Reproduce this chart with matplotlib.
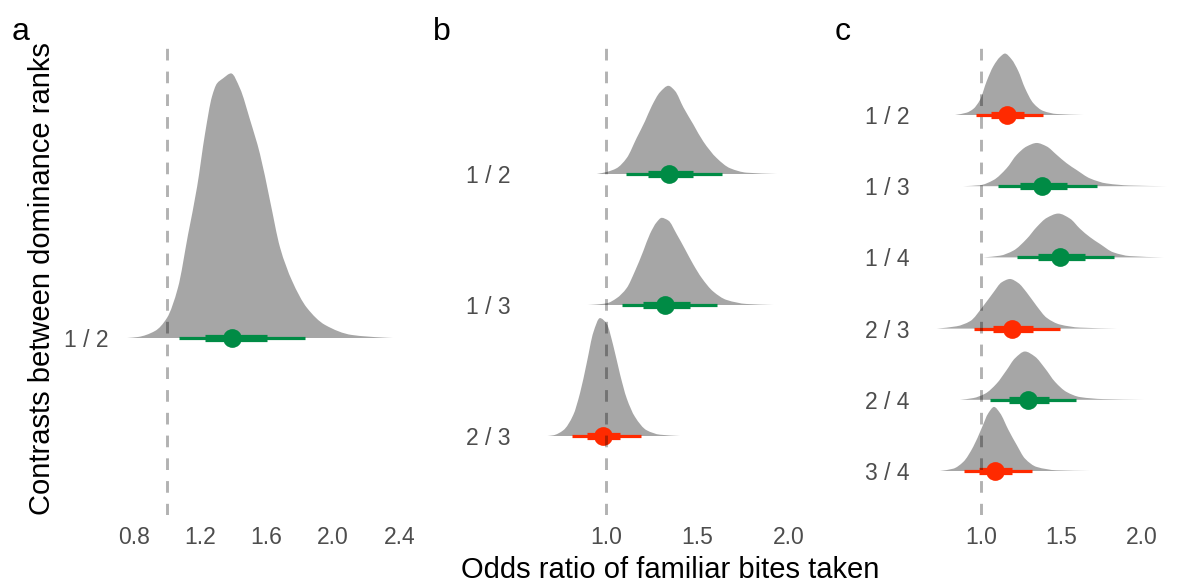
import matplotlib
matplotlib.use("Agg")
import matplotlib.pyplot as plt
from matplotlib.path import Path
from matplotlib.patches import PathPatch
import numpy as np

plt.rcParams['font.family'] = ['Liberation Sans', 'DejaVu Sans']

# ---------------- data ----------------
# Panel a
a_rows = ["1 / 2"]
a_median = [1.39]
a_lo66 = [1.23]
a_hi66 = [1.60]
a_lo95 = [1.07]
a_hi95 = [1.83]
a_dens_x = [[0.76, 0.825, 0.928, 1.0, 1.066, 1.127, 1.181, 1.229, 1.271, 1.301, 1.337,
             1.386, 1.440, 1.500, 1.560, 1.620, 1.681, 1.753, 1.843, 1.952, 2.114, 2.295, 2.36]]
a_dens_y = [[0, 1, 7, 20, 50, 103, 150, 203, 240, 253, 258,
             263, 248, 217, 183, 137, 90, 57, 30, 13, 3, 0.5, 0]]

# Panel b (bottom to top)
b_rows = ["2 / 3", "1 / 3", "1 / 2"]
b_median = [0.985, 1.322, 1.346]
b_lo66 = [0.898, 1.204, 1.228]
b_hi66 = [1.077, 1.459, 1.477]
b_lo95 = [0.813, 1.089, 1.109]
b_hi95 = [1.190, 1.605, 1.632]
b_dens_x = [
    [0.68, 0.712, 0.767, 0.821, 0.858, 0.895, 0.931, 0.967, 1.004, 1.040, 1.077, 1.113, 1.158, 1.222, 1.295, 1.404],
    [0.90, 0.931, 1.004, 1.058, 1.113, 1.158, 1.204, 1.240, 1.277, 1.304, 1.341, 1.386, 1.432, 1.477, 1.523, 1.586, 1.659, 1.769, 1.914],
    [0.95, 1.004, 1.058, 1.113, 1.168, 1.213, 1.250, 1.295, 1.341, 1.377, 1.423, 1.477, 1.532, 1.605, 1.678, 1.769, 1.933],
]
b_dens_y = [
    [0, 0.7, 5.7, 20.7, 42.3, 72.3, 102.3, 116.3, 110.7, 89, 60.7, 37.3, 19, 5.7, 1.3, 0],
    [0, 0.3, 1.7, 6.7, 16.7, 33.3, 53.3, 70, 81.7, 86, 83.3, 70, 55, 40, 26.7, 13.3, 5, 1, 0],
    [0, 2, 5.7, 15.7, 35.7, 52, 67, 80.7, 87, 82, 65.7, 49, 32, 15.7, 5.7, 1.3, 0],
]

# Panel c (bottom to top)
c_rows = ["3 / 4", "2 / 4", "2 / 3", "1 / 4", "1 / 3", "1 / 2"]
c_median = [1.087, 1.290, 1.190, 1.491, 1.381, 1.159]
c_lo66 = [0.990, 1.176, 1.077, 1.356, 1.242, 1.062]
c_hi66 = [1.190, 1.424, 1.325, 1.646, 1.532, 1.267]
c_lo95 = [0.894, 1.056, 0.958, 1.226, 1.108, 0.967]
c_hi95 = [1.319, 1.590, 1.491, 1.826, 1.718, 1.387]
c_dens_x = [
    [0.745, 0.828, 0.890, 0.952, 1.004, 1.046, 1.081, 1.118, 1.170, 1.222, 1.273, 1.346, 1.470, 1.677],
    [0.870, 0.952, 1.025, 1.097, 1.159, 1.211, 1.273, 1.335, 1.398, 1.460, 1.532, 1.615, 1.760, 2.008],
    [0.725, 0.849, 0.932, 1.014, 1.077, 1.128, 1.180, 1.232, 1.284, 1.346, 1.408, 1.491, 1.615, 1.843],
    [1.014, 1.118, 1.201, 1.284, 1.346, 1.408, 1.480, 1.553, 1.615, 1.677, 1.739, 1.822, 1.925, 2.132],
    [0.890, 0.994, 1.077, 1.159, 1.222, 1.284, 1.346, 1.408, 1.470, 1.532, 1.594, 1.677, 1.781, 1.925, 2.153],
    [0.839, 0.911, 0.952, 0.994, 1.035, 1.077, 1.118, 1.149, 1.190, 1.232, 1.273, 1.325, 1.387, 1.470, 1.635],
]
c_dens_y = [
    [0, 2.3, 9, 24, 42.3, 57.3, 63.3, 57.3, 40.7, 25.7, 12.3, 4, 0.7, 0],
    [0, 1.7, 6, 16, 29.3, 41, 47.7, 42.7, 31, 17.7, 7.7, 2.7, 0.7, 0],
    [0, 2.3, 7.3, 22.3, 35.7, 45.7, 49, 45, 35.7, 22.3, 10.7, 4, 1, 0],
    [0, 1.7, 6.7, 18.3, 30, 39, 43.3, 38.3, 28.3, 20, 13.3, 5, 1.3, 0],
    [0, 1, 6, 17.7, 31, 39.3, 42.7, 39.3, 31, 22.7, 16, 7.7, 2.7, 0.7, 0],
    [0, 2.3, 6, 15, 33.3, 48.3, 57.3, 60.7, 55, 43.3, 26.7, 11.7, 4, 1, 0],
]

a_ticks = [0.8, 1.2, 1.6, 2.0, 2.4]
b_ticks = [1.0, 1.5, 2.0]
c_ticks = [1.0, 1.5, 2.0]

# ---------------- styling ----------------
W, H = 1178, 585
SLAB = "#A6A6A6"
GREEN = "#008B45"
RED = "#FF2A00"
TICKCOL = "#4D4D4D"

fig = plt.figure(figsize=(W / 100, H / 100), dpi=100)


def make_axes(Lpx, Rpx, Tpx, Bpx, px_per_unit, px_at_one, base_px, row_px):
    ax = fig.add_axes([Lpx / W, 1 - Bpx / H, (Rpx - Lpx) / W, (Bpx - Tpx) / H])
    ax.set_xlim(1 + (Lpx - px_at_one) / px_per_unit, 1 + (Rpx - px_at_one) / px_per_unit)
    ax.set_ylim(1 - (Bpx - base_px) / row_px, 1 + (base_px - Tpx) / row_px)
    for s in ax.spines.values():
        s.set_visible(False)
    ax.set_facecolor("none")
    return ax


def slab_path(xs, hs, base):
    """Smooth (monotone cubic Bezier) outline through the read density points."""
    n = len(xs)
    dx = np.diff(xs)
    d = np.diff(hs) / dx
    m = np.zeros(n)
    m[0], m[-1] = d[0], d[-1]
    for i in range(1, n - 1):
        if d[i - 1] * d[i] <= 0:
            m[i] = 0.0
        else:
            w1 = 2 * dx[i] + dx[i - 1]
            w2 = dx[i] + 2 * dx[i - 1]
            m[i] = (w1 + w2) / (w1 / d[i - 1] + w2 / d[i])
    verts = [(xs[0], base), (xs[0], base + hs[0])]
    codes = [Path.MOVETO, Path.LINETO]
    for i in range(n - 1):
        h = dx[i]
        verts += [(xs[i] + h / 3, base + hs[i] + m[i] * h / 3),
                  (xs[i + 1] - h / 3, base + hs[i + 1] - m[i + 1] * h / 3),
                  (xs[i + 1], base + hs[i + 1])]
        codes += [Path.CURVE4] * 3
    verts += [(xs[-1], base), (xs[0], base)]
    codes += [Path.LINETO, Path.CLOSEPOLY]
    return Path(verts, codes)


def draw_panel(ax, rows, med, lo66, hi66, lo95, hi95, dx, dy, ticks):
    peak = max(max(v) for v in dy)
    for i in range(len(rows)):
        base = i + 1
        xs = np.asarray(dx[i], dtype=float)
        hs = np.asarray(dy[i], dtype=float) / peak * 0.9
        ax.add_patch(PathPatch(slab_path(xs, hs, base), facecolor=SLAB, lw=0, zorder=1))
        col = GREEN if lo95[i] > 1 else RED
        ax.plot([lo95[i], hi95[i]], [base, base], color=col, lw=2.3,
                solid_capstyle='butt', zorder=2)
        ax.plot([lo66[i], hi66[i]], [base, base], color=col, lw=5.2,
                solid_capstyle='butt', zorder=3)
        ax.plot([med[i]], [base], 'o', color=col, ms=13.5, mew=0, zorder=4)
    ax.axvline(1.0, color="black", alpha=0.3, lw=2.1, dashes=(4, 3.8), zorder=5)
    ax.set_yticks(range(1, len(rows) + 1))
    ax.set_yticklabels(rows)
    ax.set_xticks(ticks)
    ax.set_xticklabels([f"{t:.1f}" for t in ticks])
    ax.tick_params(axis='both', length=0, labelsize=16.5, labelcolor=TICKCOL)
    ax.tick_params(axis='y', pad=4)
    ax.tick_params(axis='x', pad=8)


ax_a = make_axes(114, 410, 48, 515, 166, 167, 338, 294)
draw_panel(ax_a, a_rows, a_median, a_lo66, a_hi66, a_lo95, a_hi95, a_dens_x, a_dens_y, a_ticks)

ax_b = make_axes(516, 810, 47, 515, 183, 606, 436, 131)
draw_panel(ax_b, b_rows, b_median, b_lo66, b_hi66, b_lo95, b_hi95, b_dens_x, b_dens_y, b_ticks)

ax_c = make_axes(915, 1178, 48, 515, 161, 981, 471, 71.2)
draw_panel(ax_c, c_rows, c_median, c_lo66, c_hi66, c_lo95, c_hi95, c_dens_x, c_dens_y, c_ticks)

# titles and tags
fig.text(42 / W, 1 - 279 / H, "Contrasts between dominance ranks", rotation=90,
         ha='center', va='center', fontsize=21, color='black')
fig.text(670 / W, 1 - 570 / H, "Odds ratio of familiar bites taken",
         ha='center', va='center', fontsize=21, color='black')
for tag, xp in [("a", 12), ("b", 433), ("c", 835)]:
    fig.text(xp / W, 1 - 40 / H, tag, ha='left', va='baseline', fontsize=23, color='black')

fig.savefig("out.png", dpi=100)
